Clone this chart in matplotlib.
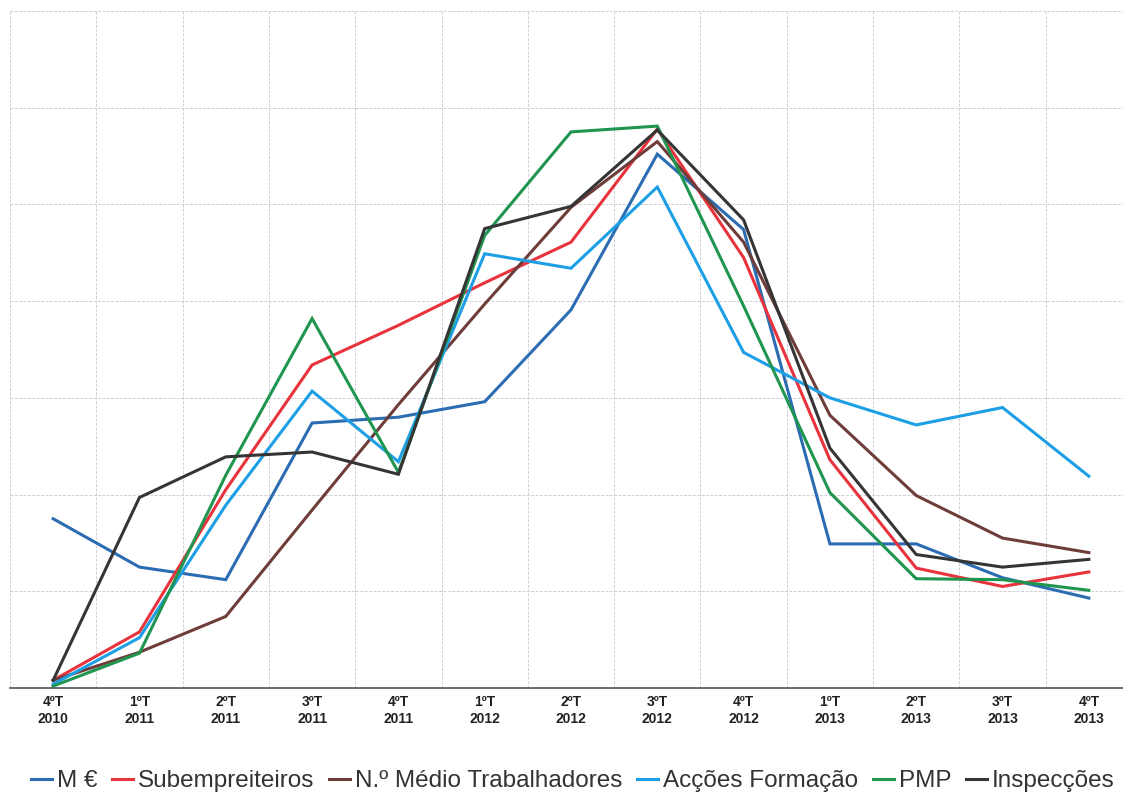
import numpy as np
import matplotlib
matplotlib.use("Agg")
from matplotlib import pyplot as plt

plt.rcParams['font.family'] = ['Liberation Sans', 'DejaVu Sans']

# quarters on the x axis
quarters = ["4ºT\n2010", "1ºT\n2011", "2ºT\n2011", "3ºT\n2011", "4ºT\n2011",
            "1ºT\n2012", "2ºT\n2012", "3ºT\n2012", "4ºT\n2012",
            "1ºT\n2013", "2ºT\n2013", "3ºT\n2013", "4ºT\n2013"]

# indicator values (same relative scale, 0..7)
m_eur = [1.75, 1.25, 1.12, 2.74, 2.80, 2.96, 3.91, 5.52, 4.74, 1.49, 1.49, 1.14, 0.93]
subempreiteiros = [0.08, 0.58, 2.05, 3.34, 3.75, 4.19, 4.61, 5.78, 4.45, 2.36, 1.24, 1.05, 1.20]
n_trabalhadores = [0.08, 0.37, 0.74, 1.84, 2.93, 3.97, 4.97, 5.65, 4.61, 2.82, 1.99, 1.55, 1.40]
accoes_formacao = [0.04, 0.52, 1.89, 3.07, 2.34, 4.49, 4.34, 5.18, 3.47, 3.00, 2.72, 2.90, 2.19]
pmp = [0.02, 0.36, 2.20, 3.82, 2.23, 4.68, 5.75, 5.81, 3.95, 2.02, 1.13, 1.12, 1.01]
inspeccoes = [0.08, 1.97, 2.39, 2.44, 2.21, 4.75, 4.98, 5.77, 4.84, 2.48, 1.38, 1.25, 1.33]

series = [
    ("M €", m_eur, "#2b6cb3"),
    ("Subempreiteiros", subempreiteiros, "#e8333c"),
    ("N.º Médio Trabalhadores", n_trabalhadores, "#6e3d3a"),
    ("Acções Formação", accoes_formacao, "#1c9fe4"),
    ("PMP", pmp, "#1f9550"),
    ("Inspecções", inspeccoes, "#353535"),
]

fig = plt.figure(figsize=(11.23, 8.02), dpi=100)
# plot area runs slightly past the right edge of the page
ax = fig.add_axes([10 / 1123, 1 - 688 / 802, 1122 / 1123, 677 / 802])

x = np.arange(len(quarters))
for name, vals, col in series:
    ax.plot(x, vals, color=col, lw=2.2, label=name, solid_joinstyle='miter')

ax.set_xlim(-0.5, len(quarters) - 0.5)
ax.set_ylim(0, 7)

# grid on category boundaries and whole units
ax.set_xticks(np.arange(-0.5, len(quarters), 1.0), minor=True)
ax.set_yticks(np.arange(0, 8, 1))
ax.set_yticklabels([])
ax.tick_params(axis='y', length=0)
ax.tick_params(axis='x', which='both', length=0)
ax.grid(True, which='minor', axis='x', color='#cfcfd8', lw=0.7, ls=(0, (3, 1.5)))
ax.grid(True, which='major', axis='y', color='#cfcfd8', lw=0.7, ls=(0, (3, 1.5)))

ax.set_xticks(x)
ax.set_xticklabels(quarters, fontsize=10, fontweight='bold', color='#222222',
                   linespacing=1.3)
ax.tick_params(axis='x', pad=5)

for s in ['top', 'right', 'left']:
    ax.spines[s].set_visible(False)
ax.spines['bottom'].set_color('#4a5560')
ax.spines['bottom'].set_linewidth(1.2)

fig.legend(loc='center', bbox_to_anchor=(573 / 1123, 1 - 781 / 802), ncol=6,
           frameon=False, fontsize=17.5, handlelength=0.85, handletextpad=0.22,
           columnspacing=0.6, labelcolor='#333333')

fig.savefig("out.png", dpi=100)
